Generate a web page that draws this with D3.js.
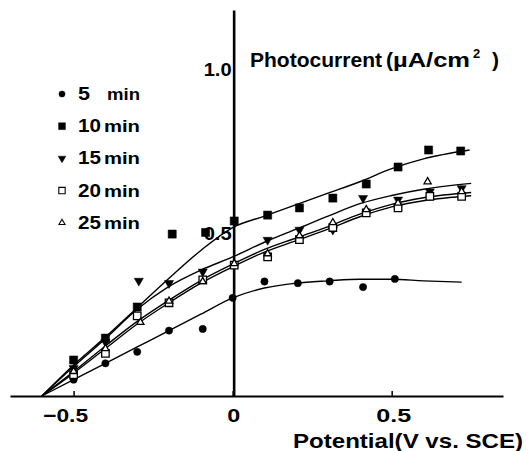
<!DOCTYPE html>
<html><head><meta charset="utf-8">
<script src="https://cdn.jsdelivr.net/npm/d3@7"></script>
<style>
body{margin:0;background:#fff}
svg{display:block}
text{font-family:"Liberation Sans",Arial,sans-serif;font-weight:bold;fill:#000}
</style>
</head><body>
<svg id="c" width="532" height="451"></svg>
<script>
// ---- data ----
const seriesDigits = ["5", "10", "15", "20", "25"];
const seriesUnit = "min";
const xTicks = [-0.5, 0, 0.5];
const yTicks = [0.5, 1.0];

// measured points [potential (V vs SCE), photocurrent (uA/cm2)]
const pts5  = [[-0.5,0.05],[-0.4,0.10],[-0.3,0.135],[-0.2,0.20],[-0.094,0.205],[0,0.30],[0.10,0.35],[0.205,0.345],[0.305,0.35],[0.41,0.333],[0.51,0.358]];
const pts10 = [[-0.5,0.11],[-0.4,0.177],[-0.3,0.272],[-0.19,0.495],[-0.085,0.50],[0.005,0.535],[0.11,0.553],[0.21,0.575],[0.315,0.605],[0.42,0.648],[0.52,0.70],[0.616,0.752],[0.717,0.749]];
const pts15 = [[-0.5,0.085],[-0.4,0.165],[-0.295,0.352],[-0.2,0.345],[-0.094,0.38],[0.11,0.477],[0.21,0.508],[0.315,0.508],[0.41,0.605],[0.52,0.60],[0.62,0.625],[0.72,0.635]];
const pts20 = [[-0.5,0.065],[-0.4,0.13],[-0.3,0.245],[-0.2,0.285],[-0.094,0.355],[0.005,0.40],[0.11,0.425],[0.21,0.478],[0.315,0.515],[0.42,0.56],[0.52,0.575],[0.62,0.61],[0.72,0.61]];
const pts25 = [[-0.5,0.075],[-0.4,0.145],[-0.29,0.225],[-0.2,0.29],[-0.094,0.35],[0.005,0.405],[0.11,0.435],[0.21,0.49],[0.315,0.53],[0.42,0.57],[0.52,0.59],[0.613,0.655],[0.72,0.625]];

// fitted curves drawn through the points
const curve5  = [[-0.6,0],[-0.5,0.05],[-0.4,0.10],[-0.3,0.15],[-0.2,0.20],[-0.1,0.25],[0,0.30],[0.1,0.33],[0.2,0.345],[0.3,0.352],[0.4,0.357],[0.5,0.357],[0.6,0.352],[0.72,0.348]];
const curve10 = [[-0.6,0],[-0.5,0.095],[-0.4,0.18],[-0.3,0.27],[-0.2,0.36],[-0.1,0.445],[0,0.515],[0.1,0.55],[0.2,0.585],[0.3,0.62],[0.4,0.655],[0.5,0.695],[0.6,0.725],[0.745,0.752]];
const curve15 = [[-0.6,0],[-0.5,0.09],[-0.4,0.175],[-0.3,0.265],[-0.2,0.335],[-0.1,0.385],[0,0.425],[0.1,0.47],[0.2,0.51],[0.3,0.55],[0.4,0.588],[0.5,0.613],[0.6,0.632],[0.75,0.65]];
const curve20 = [[-0.6,0],[-0.5,0.07],[-0.4,0.145],[-0.3,0.22],[-0.2,0.285],[-0.1,0.345],[0,0.395],[0.1,0.44],[0.2,0.475],[0.3,0.51],[0.4,0.548],[0.5,0.578],[0.6,0.597],[0.75,0.612]];
const curve25 = [[-0.6,0],[-0.5,0.075],[-0.4,0.153],[-0.3,0.228],[-0.2,0.293],[-0.1,0.353],[0,0.403],[0.1,0.448],[0.2,0.483],[0.3,0.518],[0.4,0.556],[0.5,0.586],[0.6,0.606],[0.75,0.622]];

// ---- drawing ----
const svg = d3.select("#c");
const x = d3.scaleLinear().domain([-0.7, 0.85]).range([10, 503]);
const y = d3.scaleLinear().domain([0, 1.18]).range([396, 10]);
const FONT = "Liberation Sans, Arial, sans-serif";

const line = d3.line().x(d => x(d[0])).y(d => y(d[1])).curve(d3.curveMonotoneX);
[curve5, curve10, curve15, curve20, curve25].forEach(c => {
  svg.append("path").attr("d", line(c)).attr("fill", "none")
    .attr("stroke", "#000").attr("stroke-width", 1.4);
});

// x axis
const xLabelWidth = d => d < 0 ? 45 : (d === 0 ? 13 : 35);
const xLabelShift = d => d < 0 ? -31 : (d === 0 ? -6 : -16);
const xAxis = d3.axisBottom(x).tickValues(xTicks).tickSizeInner(-5).tickSizeOuter(0)
  .tickPadding(12).tickFormat(d => d === 0 ? "0" : d3.format(".1f")(d));
const gx = svg.append("g").attr("transform", `translate(0,${y(0)})`).call(xAxis);
gx.select(".domain").attr("stroke-width", 2);
gx.selectAll(".tick line").attr("stroke-width", 1.5);
gx.selectAll(".tick text").attr("font-size", 19).attr("font-family", FONT)
  .attr("font-weight", "bold").attr("text-anchor", "start")
  .attr("x", xLabelShift).attr("dy", null).attr("y", 26)
  .attr("textLength", xLabelWidth).attr("lengthAdjust", "spacingAndGlyphs");

// y axis
const yAxis = d3.axisLeft(y).tickValues(yTicks).tickSizeInner(0).tickSizeOuter(0)
  .tickPadding(3).tickFormat(d3.format(".1f"));
const gy = svg.append("g").attr("transform", `translate(${x(0)+1},0)`).call(yAxis);
gy.select(".domain").attr("stroke-width", 2.6);
gy.selectAll(".tick text").attr("font-size", 19).attr("font-family", FONT)
  .attr("font-weight", "bold").attr("x", -30).attr("text-anchor", "start")
  .attr("textLength", 28).attr("lengthAdjust", "spacingAndGlyphs").attr("dy", "0.36em");

// markers
const sym = (type, size) => d3.symbol().type(type).size(size)();
const markerStyles = [
  {path: sym(d3.symbolCircle, 42), fill: "#000", rot: 0},
  {path: sym(d3.symbolSquare, 66), fill: "#000", rot: 0},
  {path: sym(d3.symbolTriangle, 36), fill: "#000", rot: 180},
  {path: sym(d3.symbolSquare, 56), fill: "#fff", rot: 0},
  {path: sym(d3.symbolTriangle, 22), fill: "#fff", rot: 0}
];
[pts5, pts10, pts15, pts20, pts25].forEach((pts, i) => {
  const m = markerStyles[i];
  svg.append("g").selectAll("path").data(pts).join("path")
    .attr("d", m.path)
    .attr("transform", d => `translate(${x(d[0])},${y(d[1])}) rotate(${m.rot})`)
    .attr("fill", m.fill).attr("stroke", "#000").attr("stroke-width", m.fill === "#fff" ? 1.3 : 0.5);
});

// legend
const leg = svg.append("g");
seriesDigits.forEach((dg, i) => {
  const by = 100 + i * 32.2;
  const m = markerStyles[i];
  leg.append("path").attr("d", m.path)
    .attr("transform", `translate(62,${by - 6}) rotate(${m.rot}) scale(0.85)`)
    .attr("fill", m.fill).attr("stroke", "#000").attr("stroke-width", m.fill === "#fff" ? 1.3 : 0.5);
  const t = leg.append("text").attr("y", by);
  const dw = dg.length === 1 ? 12 : 23;
  t.append("tspan").attr("x", 78).attr("font-size", 19)
    .attr("textLength", dw).attr("lengthAdjust", "spacingAndGlyphs").text(dg);
  const mx = dg.length === 1 ? 107 : 104;
  t.append("tspan").attr("x", mx).attr("font-size", 17)
    .attr("textLength", 140 - mx).attr("lengthAdjust", "spacingAndGlyphs").text(seriesUnit);
});

// axis titles
const yt = svg.append("text").attr("y", 67).attr("font-size", 21);
yt.append("tspan").attr("x", 250).attr("textLength", 132).attr("lengthAdjust", "spacingAndGlyphs").text("Photocurrent");
yt.append("tspan").attr("x", 386).text("(");
yt.append("tspan").attr("x", 393).attr("textLength", 77).attr("lengthAdjust", "spacingAndGlyphs").text("µA/cm");
yt.append("tspan").attr("x", 473).attr("font-size", 13).attr("dy", -9).text("2");
yt.append("tspan").attr("x", 492).attr("dy", 9).text(")");

svg.append("text").attr("x", 293).attr("y", 448).attr("font-size", 21)
  .attr("textLength", 230).attr("lengthAdjust", "spacingAndGlyphs")
  .text("Potential(V  vs. SCE)");
</script>
</body></html>
